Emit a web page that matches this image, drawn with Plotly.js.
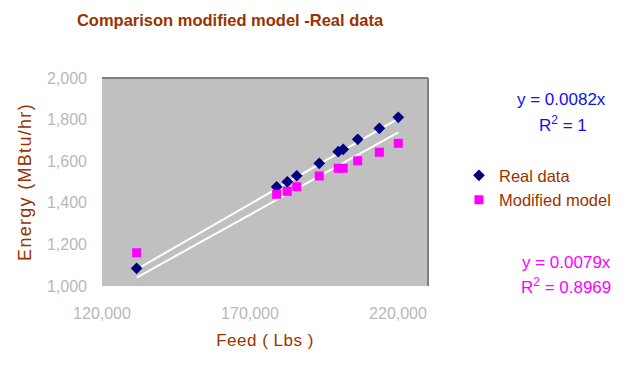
<!DOCTYPE html>
<html>
<head>
<meta charset="utf-8">
<script src="https://cdn.plot.ly/plotly-3.0.1.min.js"></script>
<style>
html,body{margin:0;padding:0;background:#ffffff;}
#chart{width:634px;height:386px;}
#chart .ytitle{letter-spacing:1.3px;}
#chart .xtitle{letter-spacing:0.5px;}
</style>
</head>
<body>
<div id="chart"></div>
<script>
// Data
var feed = [131700, 179000, 182600, 185800, 193400, 199800, 201500, 206400, 213700, 220100];
var realData = [1085, 1477, 1501, 1530, 1590, 1646, 1657, 1705, 1758, 1811];
var modifiedModel = [1160, 1441, 1455, 1477, 1529, 1566, 1566, 1602, 1643, 1686];
var seriesNames = ["Real data", "Modified model"];
var trendSlopes = [0.0082, 0.0079];
var trendLabels = ["y = 0.0082x", "R<sup>2</sup> = 1", "y = 0.0079x", "R<sup>2</sup> = 0.8969"];
var xTickVals = [120000, 170000, 220000];
var yTickVals = [1000, 1200, 1400, 1600, 1800, 2000];

var FONT = "Arial, 'Liberation Sans', sans-serif";
var BROWN = "#993300";

var xMin = Math.min.apply(null, feed), xMax = Math.max.apply(null, feed);

var traces = [
  {x: [xMin, xMax], y: [trendSlopes[0]*xMin, trendSlopes[0]*xMax], mode: "lines",
   line: {color: "#ffffff", width: 2}, showlegend: false, hoverinfo: "skip"},
  {x: [xMin, xMax], y: [trendSlopes[1]*xMin, trendSlopes[1]*xMax], mode: "lines",
   line: {color: "#ffffff", width: 2}, showlegend: false, hoverinfo: "skip"},
  {x: feed, y: realData, mode: "markers", name: seriesNames[0],
   marker: {symbol: "diamond", color: "#000080", size: 9}},
  {x: feed, y: modifiedModel, mode: "markers", name: seriesNames[1],
   marker: {symbol: "square", color: "#ff00ff", size: 9}}
];

var layout = {
  width: 634, height: 386,
  margin: {l: 102, r: 206, t: 78, b: 100, pad: 0},
  paper_bgcolor: "#ffffff",
  plot_bgcolor: "#c0c0c0",
  font: {family: FONT, color: BROWN},
  title: {text: "<b>Comparison modified model -Real data</b>",
          font: {family: FONT, size: 16.5, color: BROWN},
          x: 230/634, xref: "container", xanchor: "center",
          y: 1 - 20/386, yref: "container", yanchor: "middle"},
  xaxis: {range: [120000, 230135], tickvals: xTickVals, tickformat: ",d",
          showgrid: false, zeroline: false, showline: false, ticks: "",
          ticklabelstandoff: 16,
          tickfont: {family: FONT, size: 16, color: "#b8b8b8"},
          title: {text: "Feed ( Lbs )", font: {family: FONT, size: 17, color: BROWN}, standoff: 13}},
  yaxis: {range: [1000, 2000], tickvals: yTickVals, tickformat: ",d",
          showgrid: false, zeroline: false, showline: false, ticks: "",
          ticklabelstandoff: 14,
          tickfont: {family: FONT, size: 16, color: "#b8b8b8"},
          title: {text: "Energy (MBtu/hr)", font: {family: FONT, size: 18, color: BROWN}, standoff: 10}},
  legend: {x: 1.095, y: 0.615, xanchor: "left", yanchor: "top",
           bgcolor: "rgba(0,0,0,0)", borderwidth: 0, itemwidth: 30,
           font: {family: FONT, size: 16.5, color: BROWN}},
  shapes: [
    {type: "line", xref: "paper", yref: "paper", x0: 0, x1: 1, y0: 1, y1: 1, line: {color: "#808080", width: 2}},
    {type: "line", xref: "paper", yref: "paper", x0: 1, x1: 1, y0: 0, y1: 1, line: {color: "#808080", width: 2}}
  ],
  annotations: [
    {text: trendLabels[0], xref: "paper", yref: "paper", x: 1.411, y: 0.899, showarrow: false,
     xanchor: "center", yanchor: "middle", font: {family: FONT, size: 17, color: "#1010f0"}},
    {text: trendLabels[1], xref: "paper", yref: "paper", x: 1.414, y: 0.779, showarrow: false,
     xanchor: "center", yanchor: "middle", font: {family: FONT, size: 17, color: "#1010f0"}},
    {text: trendLabels[2], xref: "paper", yref: "paper", x: 1.426, y: 0.115, showarrow: false,
     xanchor: "center", yanchor: "middle", font: {family: FONT, size: 17, color: "#ff00ff"}},
    {text: trendLabels[3], xref: "paper", yref: "paper", x: 1.423, y: 0.0, showarrow: false,
     xanchor: "center", yanchor: "middle", font: {family: FONT, size: 17, color: "#ff00ff"}}
  ]
};

Plotly.newPlot("chart", traces, layout, {staticPlot: true, displayModeBar: false});
</script>
</body>
</html>
